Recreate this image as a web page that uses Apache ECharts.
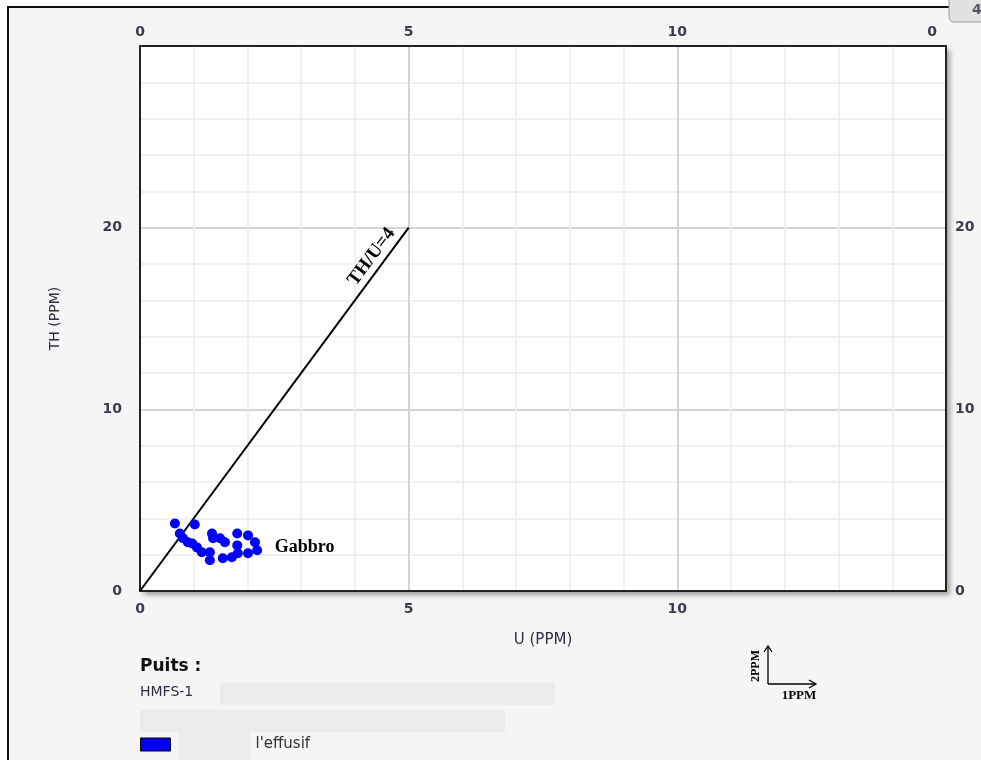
<!DOCTYPE html>
<html>
<head>
<meta charset="utf-8">
<script src="https://cdn.jsdelivr.net/npm/echarts@6/dist/echarts.min.js"></script>
<style>
  html, body { margin: 0; padding: 0; background: #fff; }
  #chart { width: 981px; height: 760px; }
</style>
</head>
<body>
<div id="chart"></div>
<script>
// axis ranges / ticks
const xRange = [0, 15];
const yRange = [0, 30];
const xTicks = [0, 5, 10, 15];
const yTicks = [0, 10, 20, 30];

// samples : U (PPM), TH (PPM)
const uValues = [0.65, 1.02, 0.74, 0.80, 0.89, 0.97, 1.06, 1.15, 1.30, 1.30, 1.34, 1.36,
  1.49, 1.58, 1.54, 1.71, 1.81, 1.81, 1.82, 2.01, 2.01, 2.14, 2.18];
const thValues = [3.72, 3.66, 3.17, 2.90, 2.68, 2.62, 2.40, 2.13, 2.13, 1.69, 3.17, 2.90,
  2.90, 2.68, 1.80, 1.86, 3.17, 2.51, 2.08, 3.06, 2.08, 2.68, 2.24];
const samples = uValues.map((u, i) => [u, thValues[i]]);

// TH/U = 4 reference line and annotation
const ratioLine = [[0, 0], [5, 20]];
const gabbroPos = [2.5, 2.4];

const chart = echarts.init(document.getElementById("chart"));

const tickFont = {
  fontFamily: "DejaVu Sans",
  fontSize: 14,
  fontWeight: "bold",
  color: "#3c3c4c",
};
const frameLine = { show: true, onZero: false, lineStyle: { color: "#222", width: 2 } };
const majorGrid = {
  show: true,
  showMinLine: false,
  showMaxLine: false,
  lineStyle: { color: "#d4d4d4", width: 2 },
};

const option = {
  animation: false,
  backgroundColor: "#ffffff",
  grid: {
    left: 140,
    top: 46,
    right: 35,
    bottom: 169,
    show: true,
    backgroundColor: "#ffffff",
    borderWidth: 0,
    shadowColor: "rgba(0,0,0,0.35)",
    shadowBlur: 5,
    shadowOffsetX: 4,
    shadowOffsetY: 4,
  },
  legend: {
    data: ["l'effusif"],
    left: 140,
    top: 737,
    padding: 0,
    icon: "rect",
    itemWidth: 30,
    itemHeight: 13,
    itemStyle: { borderColor: "#000", borderWidth: 1 },
    textStyle: {
      fontFamily: "DejaVu Sans",
      fontSize: 15,
      color: "#333",
      padding: [0, 0, 0, 80],
    },
  },
  xAxis: [
    {
      type: "value",
      position: "bottom",
      min: xRange[0],
      max: xRange[1],
      interval: 5,
      name: "U (PPM)",
      nameLocation: "middle",
      nameGap: 42,
      nameTextStyle: { fontFamily: "DejaVu Sans", fontSize: 15, color: "#2e2e44" },
      axisLine: frameLine,
      axisTick: { show: false },
      axisLabel: { ...tickFont, margin: 11, showMaxLabel: false },
      splitLine: majorGrid,
      minorTick: { show: false, splitNumber: 5 },
      minorSplitLine: { show: true, lineStyle: { color: "#ebebeb", width: 1.5 } },
    },
    {
      type: "value",
      position: "top",
      min: xRange[0],
      max: xRange[1],
      interval: 5,
      axisLine: frameLine,
      axisTick: { show: false },
      splitLine: { show: false },
      axisLabel: {
        ...tickFont,
        margin: 7,
        formatter: (v) => (v === xTicks[xTicks.length - 1] ? "{r|0}" : String(v)),
        rich: { r: { ...tickFont, padding: [0, 28, 0, 0] } },
      },
    },
  ],
  yAxis: [
    {
      type: "value",
      position: "left",
      min: yRange[0],
      max: yRange[1],
      interval: 10,
      name: "TH (PPM)",
      nameLocation: "middle",
      nameGap: 78,
      nameTextStyle: { fontFamily: "DejaVu Sans", fontSize: 14, color: "#2e2e44" },
      axisLine: frameLine,
      axisTick: { show: false },
      axisLabel: { ...tickFont, margin: 18, showMaxLabel: false },
      splitLine: majorGrid,
      minorTick: { show: false, splitNumber: 5 },
      minorSplitLine: { show: true, lineStyle: { color: "#ebebeb", width: 1.5 } },
    },
    {
      type: "value",
      position: "right",
      min: yRange[0],
      max: yRange[1],
      interval: 10,
      axisLine: frameLine,
      axisTick: { show: false },
      splitLine: { show: false },
      axisLabel: { ...tickFont, margin: 9, showMaxLabel: false },
    },
  ],
  series: [
    {
      name: "l'effusif",
      type: "scatter",
      data: samples,
      symbolSize: 10,
      itemStyle: { color: "#0000ff", opacity: 1 },
      z: 5,
      markLine: {
        silent: true,
        symbol: "none",
        lineStyle: { color: "#000", width: 2, type: "solid" },
        label: {
          show: true,
          formatter: "TH/U=4",
          position: "insideEndTop",
          distance: [12, 3],
          fontFamily: "Liberation Serif",
          fontWeight: "bold",
          fontSize: 19,
          color: "#000",
        },
        data: [[{ coord: ratioLine[0] }, { coord: ratioLine[1] }]],
      },
      markPoint: {
        silent: true,
        symbol: "circle",
        symbolSize: 1,
        itemStyle: { color: "rgba(0,0,0,0)" },
        label: {
          show: true,
          position: "right",
          distance: 0,
          formatter: "Gabbro",
          fontFamily: "Liberation Serif",
          fontWeight: "bold",
          fontSize: 18,
          color: "#000",
        },
        data: [{ coord: gabbroPos }],
      },
    },
  ],
  graphic: [
    // panel
    {
      type: "rect",
      z: -10,
      shape: { x: 8, y: 7, width: 1000, height: 800 },
      style: { fill: "#f5f5f5", stroke: "#111", lineWidth: 2 },
    },
    // tab top right
    {
      type: "rect",
      z: -5,
      shape: { x: 949, y: -4, width: 45, height: 26, r: 5 },
      style: { fill: "#e2e2e2", stroke: "#9a9a9a", lineWidth: 1 },
    },
    {
      type: "text",
      z: -4,
      style: {
        x: 972, y: 10, text: "4", fill: "#556",
        font: "bold 14px DejaVu Sans", verticalAlign: "middle",
      },
    },
    // well info
    {
      type: "text",
      style: {
        x: 140, y: 667, text: "Puits :", fill: "#111",
        font: "bold 17px DejaVu Sans", verticalAlign: "middle",
      },
    },
    {
      type: "rect",
      shape: { x: 220, y: 683, width: 335, height: 22 },
      style: { fill: "#ececec" },
    },
    {
      type: "text",
      style: {
        x: 140, y: 692, text: "HMFS-1", fill: "#2e2e44",
        font: "14px DejaVu Sans", verticalAlign: "middle",
      },
    },
    {
      type: "rect",
      shape: { x: 140, y: 710, width: 365, height: 22 },
      style: { fill: "#ececec" },
    },
    {
      type: "rect",
      shape: { x: 178, y: 730, width: 72, height: 30 },
      style: { fill: "#ececec" },
    },
    // scale icon
    {
      type: "group",
      children: [
        { type: "polyline", shape: { points: [[768, 684], [768, 647]] }, style: { stroke: "#000", lineWidth: 1.3 } },
        { type: "polyline", shape: { points: [[764, 652], [768, 646], [772, 652]] }, style: { stroke: "#000", lineWidth: 1.3, fill: null } },
        { type: "polyline", shape: { points: [[768, 684], [815, 684]] }, style: { stroke: "#000", lineWidth: 1.3 } },
        { type: "polyline", shape: { points: [[809, 680], [816, 684], [809, 688]] }, style: { stroke: "#000", lineWidth: 1.3, fill: null } },
        {
          type: "text",
          rotation: Math.PI / 2,
          x: 756, y: 666,
          style: {
            text: "2PPM", fill: "#000", font: "bold 12px Liberation Serif",
            align: "center", verticalAlign: "middle",
          },
        },
        {
          type: "text",
          style: {
            x: 799, y: 696, text: "1PPM", fill: "#000", font: "bold 13px Liberation Serif",
            align: "center", verticalAlign: "middle",
          },
        },
      ],
    },
  ],
};

chart.setOption(option);
</script>
</body>
</html>
